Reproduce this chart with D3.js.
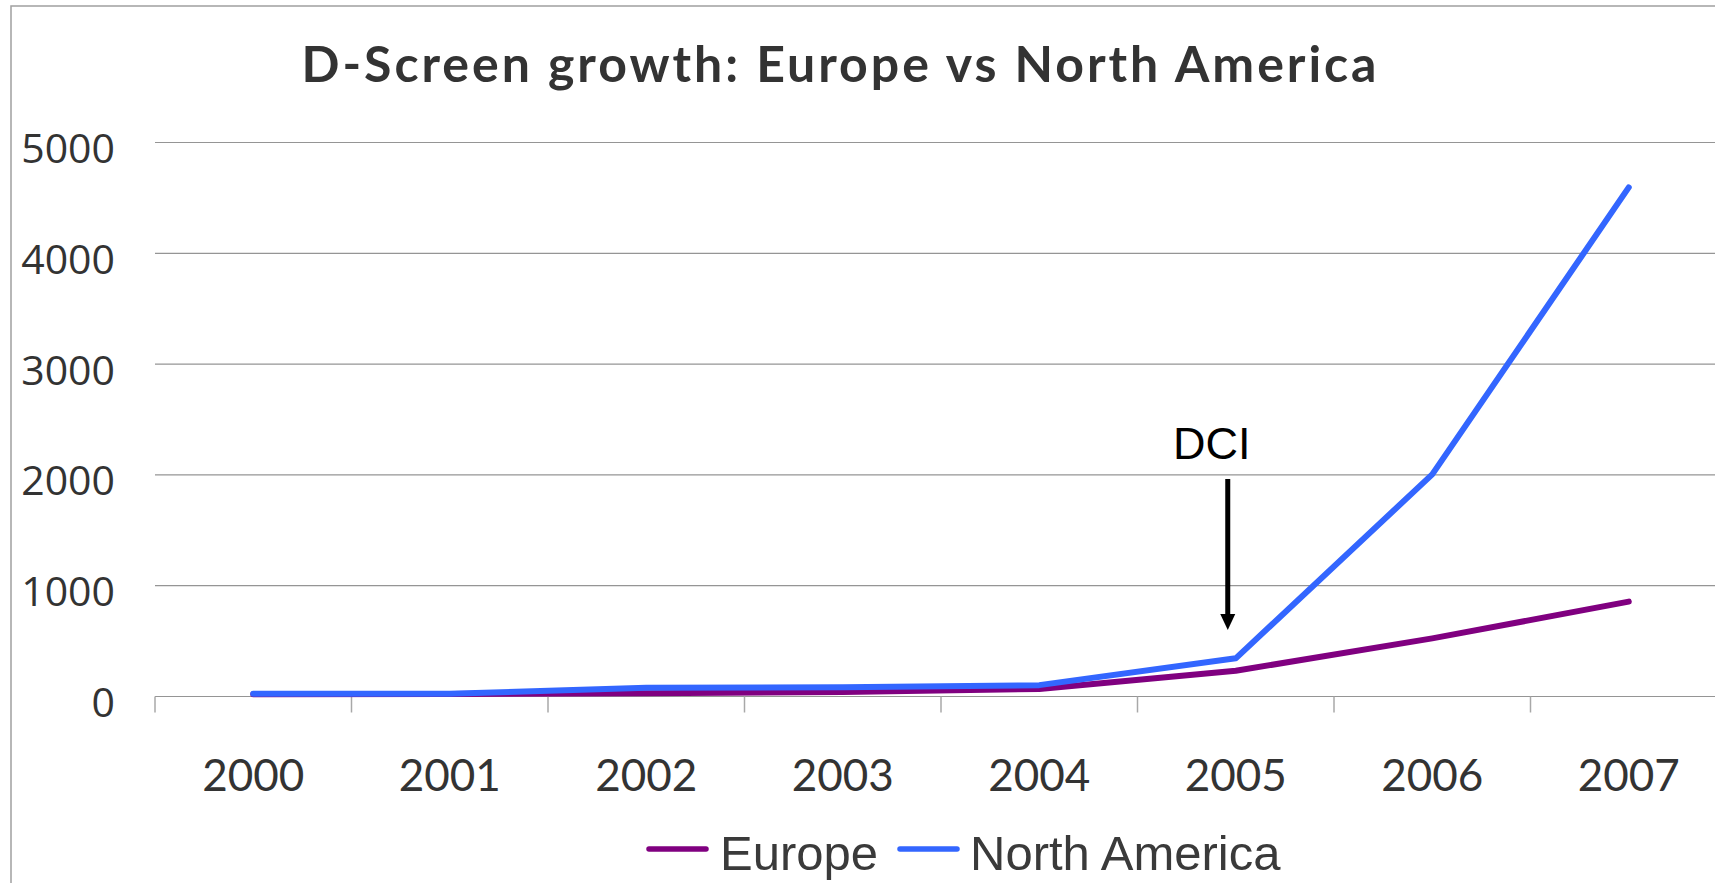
<!DOCTYPE html>
<html>
<head>
<meta charset="utf-8">
<script src="https://cdn.jsdelivr.net/npm/d3@7"></script>
<style>
  html, body { margin: 0; padding: 0; background: #fff; overflow: hidden; }
</style>
</head>
<body>
<svg id="chart" width="1715" height="883"></svg>
<script>
// chart data
const years = ["2000", "2001", "2002", "2003", "2004", "2005", "2006", "2007"];
const europe = [15, 18, 25, 36, 63, 228, 520, 852];
const northAmerica = [20, 20, 75, 78, 98, 340, 2000, 4590];
const yTicks = [0, 1000, 2000, 3000, 4000, 5000];
const seriesNames = ["Europe", "North America"];
const seriesColors = ["#800080", "#3366ff"];

function drawChart() {
    const svg = d3.select("#chart");

    // outer frame (right and bottom edges fall outside the picture)
    svg.append("rect")
        .attr("x", 11).attr("y", 6)
        .attr("width", 1800).attr("height", 1000)
        .attr("fill", "none")
        .attr("stroke", "#a0a0a0")
        .attr("stroke-width", 1.5);

    const left = 155, bw = 196.5;
    const x = d3.scaleBand().domain(years).range([left, left + bw * years.length]);
    const y = d3.scaleLinear().domain([0, 5000]).range([696, 142]);

    // title
    svg.append("text")
        .attr("x", 839).attr("y", 82)
        .attr("text-anchor", "middle")
        .attr("font-family", "Lato, sans-serif")
        .attr("font-weight", "bold")
        .attr("font-size", 50)
        .attr("textLength", 1075)
        .attr("lengthAdjust", "spacing")
        .attr("fill", "#333")
        .text("D-Screen growth: Europe vs North America");

    // horizontal gridlines
    svg.selectAll(".grid")
        .data(yTicks.filter(d => d > 0))
        .enter().append("line")
        .attr("x1", left).attr("x2", 1800)
        .attr("y1", d => y(d) + 0.5).attr("y2", d => y(d) + 0.5)
        .attr("stroke", "#959595")
        .attr("stroke-width", 1.2);

    // y labels
    const yAxis = svg.append("g")
        .attr("transform", "translate(115,0)")
        .call(d3.axisLeft(y).tickValues(yTicks).tickSize(0).tickPadding(0).tickFormat(d3.format("d")));
    yAxis.select(".domain").remove();
    yAxis.selectAll("text")
        .attr("font-family", "'Open Sans', sans-serif")
        .attr("font-size", 41)
        .attr("fill", "#333")
        .attr("dy", "0.4em")
        .attr("dx", 0)
        .attr("transform", "translate(0,4)");

    // x axis line and boundary ticks
    const x0 = y(0) + 0.5;
    svg.append("line")
        .attr("x1", left).attr("x2", 1800)
        .attr("y1", x0).attr("y2", x0)
        .attr("stroke", "#959595").attr("stroke-width", 1.2);
    const bounds = years.map(d => x(d)).concat([x.range()[1]]);
    svg.selectAll(".xtick")
        .data(bounds)
        .enter().append("line")
        .attr("x1", d => d).attr("x2", d => d)
        .attr("y1", x0).attr("y2", x0 + 16)
        .attr("stroke", "#a8a8a8").attr("stroke-width", 1.5);

    // x labels
    const xAxis = svg.append("g")
        .attr("transform", "translate(0,696)")
        .call(d3.axisBottom(x).tickSize(0).tickPadding(0));
    xAxis.select(".domain").remove();
    xAxis.selectAll("text")
        .attr("font-family", "Lato, sans-serif")
        .attr("font-size", 44)
        .attr("fill", "#333")
        .attr("y", 95)
        .attr("dy", 0);

    // lines
    const line = d3.line()
        .x((d, i) => x(years[i]) + x.bandwidth() / 2)
        .y(d => y(d));
    [europe, northAmerica].forEach((vals, i) => {
        svg.append("path")
            .datum(vals)
            .attr("d", line)
            .attr("fill", "none")
            .attr("stroke", seriesColors[i])
            .attr("stroke-width", 6)
            .attr("stroke-linecap", "round")
            .attr("stroke-linejoin", "round");
    });

    // DCI annotation
    const ax = x("2005") + x.bandwidth() / 2 - 8;
    svg.append("text")
        .attr("x", ax - 16).attr("y", 459)
        .attr("text-anchor", "middle")
        .attr("font-family", "'Liberation Sans', Arial, sans-serif")
        .attr("font-size", 45)
        .attr("fill", "#000")
        .text("DCI");
    svg.append("line")
        .attr("x1", ax).attr("x2", ax)
        .attr("y1", 479).attr("y2", 617)
        .attr("stroke", "#000").attr("stroke-width", 5);
    svg.append("path")
        .attr("d", `M${ax - 7.5},${614} L${ax + 7.5},${614} L${ax},${630} Z`)
        .attr("fill", "#000");

    // legend
    const legendItems = [
        { name: seriesNames[0], color: seriesColors[0], x1: 647, x2: 708, tx: 720 },
        { name: seriesNames[1], color: seriesColors[1], x1: 898, x2: 959, tx: 970 }
    ];
    const lg = svg.append("g");
    legendItems.forEach(d => {
        lg.append("line")
            .attr("x1", d.x1 + 2).attr("x2", d.x2 - 2)
            .attr("y1", 849).attr("y2", 849)
            .attr("stroke", d.color)
            .attr("stroke-width", 5.5)
            .attr("stroke-linecap", "round");
        lg.append("text")
            .attr("x", d.tx).attr("y", 870)
            .attr("font-family", "'Liberation Sans', Arial, sans-serif")
            .attr("font-size", 49)
            .attr("fill", "#3a3a3a")
            .text(d.name);
    });
}

drawChart();
</script>
</body>
</html>
